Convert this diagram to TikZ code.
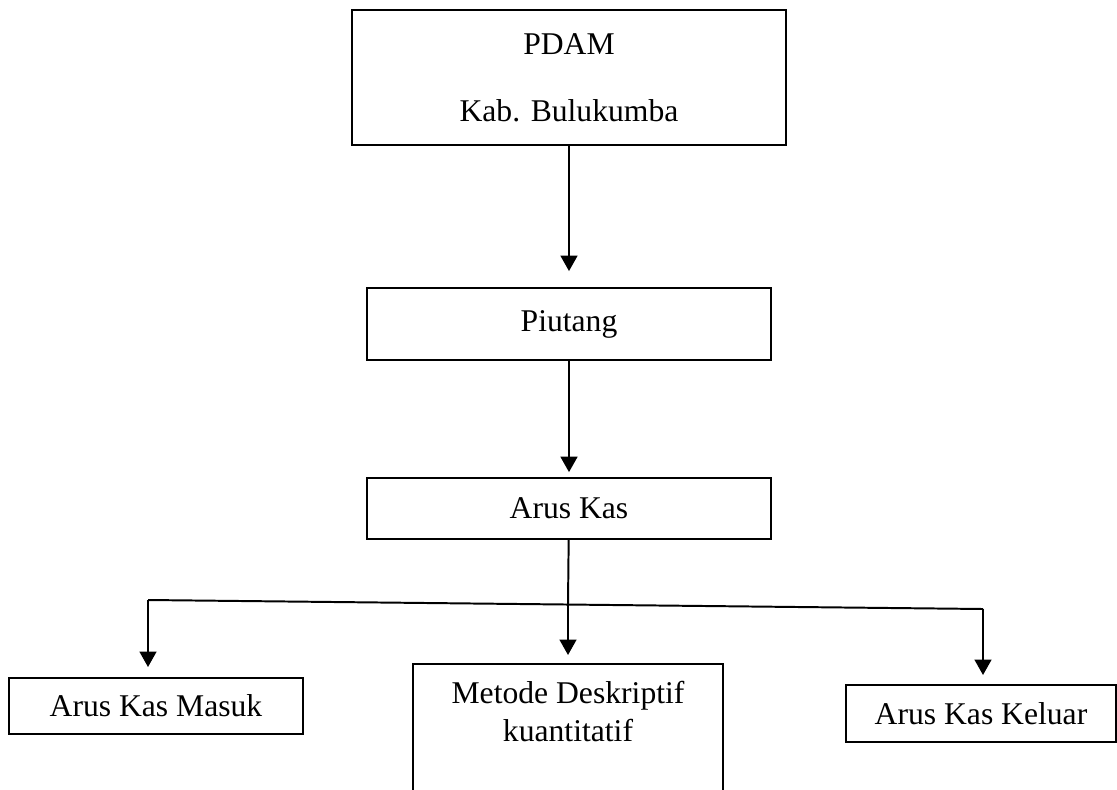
\documentclass[tikz,border=0pt]{standalone}
\usepackage{fontspec}
\setmainfont{Liberation Serif}
\usetikzlibrary{arrows.meta,positioning}

\begin{document}
\begin{tikzpicture}[x=0.025cm, y=-0.025cm, line width=1.4pt,
    >={Triangle[length=11pt,width=12pt]},
    box/.style={draw, rectangle, inner sep=0pt, font=\fontsize{22.5}{27}\selectfont}]
    \clip (0,0) rectangle (1117,789);
    \node (pdam) [box, minimum width=10.85cm, minimum height=3.375cm, align=center] at (569,77.5) {PDAM\\[0.72cm]Kab. Bulukumba};
    \node (piutang) [box, minimum width=10.1cm, minimum height=1.8cm, below of=pdam, node distance=6.1625cm] {Piutang};
    \node (kas) [box, minimum width=10.1cm, minimum height=1.525cm, below of=piutang, node distance=4.6125cm] {Arus Kas};
    \node (masuk) [box, minimum width=7.35cm, minimum height=1.4cm] at (156,706) {Arus Kas Masuk};
    \node (metode) [box, minimum width=7.75cm, align=center, anchor=north, inner ysep=0.43cm, text depth=3cm] at (568,663) {Metode Deskriptif\\kuantitatif};
    \node (keluar) [box, minimum width=6.75cm, minimum height=1.425cm] at (981,713.5) {Arus Kas Keluar};

    \coordinate (split) at (568,604);
    \coordinate (kasleft) at (148,600);
    \coordinate (kasright) at (983,609);

    \draw[->, shorten >=0.4cm] (pdam) -- (piutang);
    \draw[->, shorten >=0.125cm] (piutang) -- (kas);
    \draw (kas) -- (split);
    \draw (kasleft) -- (kasright);
    \draw[->, shorten >=0.25cm] (kasleft) -- (kasleft |- masuk.north);
    \draw[->, shorten >=0.2cm] (split) -- (metode);
    \draw[->, shorten >=0.225cm] (kasright) -- (kasright |- keluar.north);
\end{tikzpicture}
\end{document}
